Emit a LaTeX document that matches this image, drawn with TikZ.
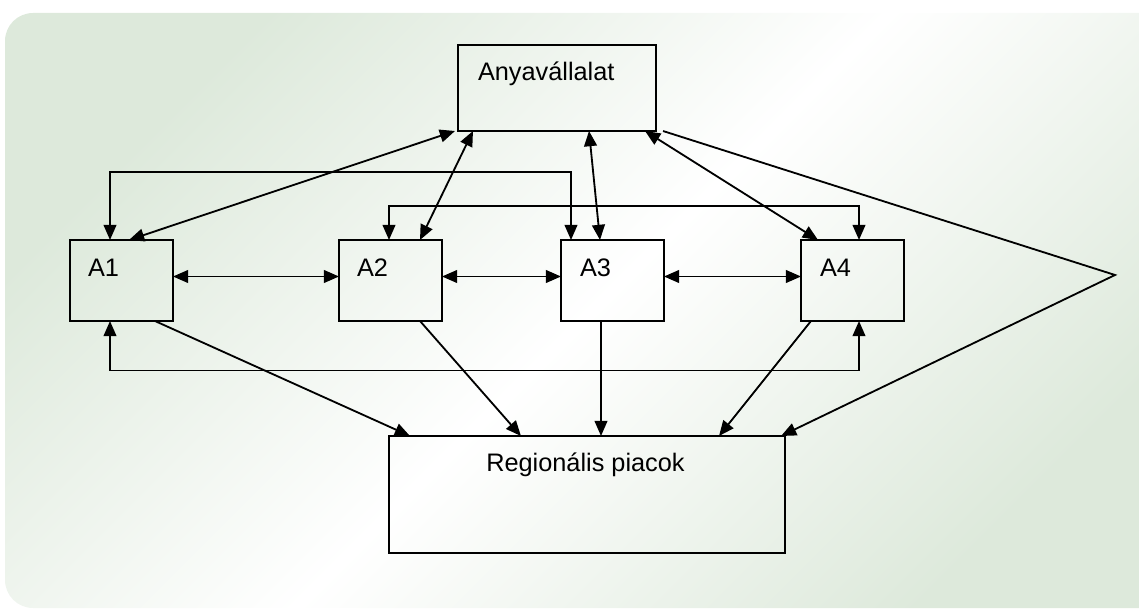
\documentclass[tikz,border=0pt]{standalone}
\usepackage{fontspec}
\setmainfont{Liberation Sans}
\usetikzlibrary{arrows.meta,calc}
\definecolor{bgG}{RGB}{221,233,219}
\begin{document}
\begin{tikzpicture}[x=0.025cm,y=-0.025cm,
  box/.style={draw=black,line width=1.4pt,inner sep=0,outer sep=0,rectangle},
  lbl/.style={inner sep=0,outer sep=0,font=\fontsize{18}{21}\selectfont,text=black},
  conn/.style={line width=1.3pt,-{Triangle[length=0.38cm,width=0.32cm]}},
  biconn/.style={line width=1.3pt,{Triangle[length=0.38cm,width=0.32cm]}-{Triangle[length=0.38cm,width=0.32cm]}}]
\useasboundingbox (0,0) rectangle (1139,610);
\begin{scope}
\clip (0,0) rectangle (1139,610);
\shade[top color=bgG,bottom color=bgG,middle color=white,shading angle=45,rounded corners=0.7cm] (5,13) rectangle (1180,608);
\end{scope}
% boxes
\node[box,minimum width=4.95cm,minimum height=2.15cm] (P) at (557,88) {};
\node[box,minimum width=2.575cm,minimum height=2.025cm] (A1) at (121.5,280.5) {};
\node[box,minimum width=2.575cm,minimum height=2.025cm] (A2) at (390.5,280.5) {};
\node[box,minimum width=2.575cm,minimum height=2.025cm] (A3) at (612.5,280.5) {};
\node[box,minimum width=2.575cm,minimum height=2.025cm] (A4) at (852.5,280.5) {};
\node[box,minimum width=9.9cm,minimum height=2.925cm] (R) at (587,494.5) {};
% labels
\node[lbl,anchor=base west] (tP) at (478,81) {Anyavállalat};
\node[lbl,anchor=base west] (t1) at (88,276) {A1};
\node[lbl,anchor=base west] (t2) at (357,276) {A2};
\node[lbl,anchor=base west] (t3) at (580,276) {A3};
\node[lbl,anchor=base west] (t4) at (820,276) {A4};
\node[lbl,anchor=base] (tR) at (585.5,471) {Regionális piacok};
% loops
\draw[biconn] ($(A1.north)+(-11.5,0)$) -- ++(0,-68) -| ($(A3.north)+(-41.5,0)$);
\draw[biconn] ($(A2.north)+(-1.5,0)$) -- ++(0,-34) -| ($(A4.north)+(6.5,0)$);
\draw[biconn] ($(A1.south)+(-11.5,0)$) -- ++(0,49.5) -| ($(A4.south)+(6.5,0)$);
% horizontal
\draw[biconn] ($(A1.east)+(0,-4)$) -- ($(A2.west)+(0,-4)$);
\draw[biconn] ($(A2.east)+(0,-4)$) -- ($(A3.west)+(0,-4)$);
\draw[biconn] ($(A3.east)+(0,-4)$) -- ($(A4.west)+(0,-4)$);
% parent links
\draw[biconn] ($(P.south west)+(-3,0)$) -- ($(A1.north)+(7.5,0)$);
\draw[biconn] ($(P.south west)+(15,0)$) -- ($(A2.north)+(29.5,0)$);
\draw[biconn] ($(P.south)+(32,0)$) -- ($(A3.north)+(-12.5,0)$);
\draw[biconn] ($(P.south east)+(-11,0)$) -- ($(A4.north)+(-34.5,0)$);
\coordinate (V) at (1115,275);
\draw[conn] ($(P.south east)+(7,0)$) -- (V) -- ($(R.north east)+(-4,0)$);
% to markets
\draw[conn] ($(A1.south)+(33.5,0)$) -- ($(R.north west)+(21,0)$);
\draw[conn] ($(A2.south)+(29.5,0)$) -- ($(R.north west)+(132,0)$);
\draw[conn] ($(A3.south)+(-11.5,0)$) -- ($(R.north)+(14,0)$);
\draw[conn] ($(A4.south)+(-41.5,0)$) -- ($(R.north)+(132,0)$);
\end{tikzpicture}
\end{document}
